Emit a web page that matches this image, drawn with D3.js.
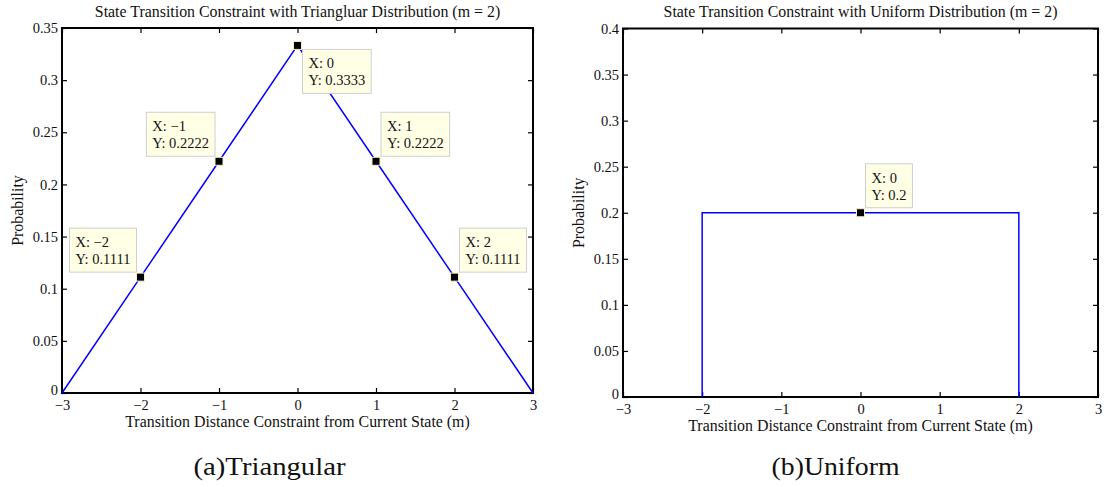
<!DOCTYPE html>
<html>
<head>
<meta charset="utf-8">
<script src="https://cdn.jsdelivr.net/npm/d3@7"></script>
<style>
  body { margin: 0; background: #fff; }
  svg text { font-family: "Liberation Serif", Tinos, "Times New Roman", Times, "DejaVu Serif", serif !important; fill: #111; }
</style>
</head>
<body>
<svg id="fig" width="1110" height="487"></svg>
<script>
// triangular panel
var triX = [-3, -2, -1, 0, 1, 2, 3];
var triY = [0, 0.1111, 0.2222, 0.3333, 0.2222, 0.1111, 0];
var triTipX = [-2, -1, 0, 1, 2];
var triTipY = [0.1111, 0.2222, 0.3333, 0.2222, 0.1111];
var triTipSide = ["nw", "nw", "se", "ne", "ne"];

// uniform panel
var uniX = [-2, -2, 2, 2];
var uniY = [0, 0.2, 0.2, 0];
var uniTipX = [0];
var uniTipY = [0.2];
var uniTipSide = ["ne"];

var xTicks = [-3, -2, -1, 0, 1, 2, 3];
var triYTicks = [0, 0.05, 0.1, 0.15, 0.2, 0.25, 0.3, 0.35];
var uniYTicks = [0, 0.05, 0.1, 0.15, 0.2, 0.25, 0.3, 0.35, 0.4];

var xLabel = "Transition Distance Constraint from Current State (m)";
var yLabel = "Probability";

var svg = d3.select("#fig");
var fmt = function(d) { return String(+d.toFixed(4)).replace("-", "\u2212"); };

function drawPanel(p) {
    var x = d3.scaleLinear().domain([-3, 3]).range([p.left, p.right]);
    var y = d3.scaleLinear().domain([0, p.yMax]).range([p.bottom, p.top]);
    var g = svg.append("g");

    // inward ticks on all four sides
    g.append("g")
        .attr("transform", "translate(0," + p.bottom + ")")
        .call(d3.axisBottom(x).tickValues(xTicks).tickSize(-5).tickPadding(7).tickFormat(fmt));
    g.append("g")
        .attr("transform", "translate(0," + p.top + ")")
        .call(d3.axisTop(x).tickValues(xTicks).tickSize(-5).tickFormat(""));
    var yl = g.append("g")
        .attr("transform", "translate(" + p.left + ",0)")
        .call(d3.axisLeft(y).tickValues(p.yTicks).tickSize(-5).tickPadding(4).tickFormat(fmt));
    g.append("g")
        .attr("transform", "translate(" + p.right + ",0)")
        .call(d3.axisRight(y).tickValues(p.yTicks).tickSize(-5).tickFormat(""));

    g.selectAll(".domain").remove();
    g.selectAll(".tick line").attr("stroke", "#000").attr("stroke-width", 1.2);
    g.selectAll(".tick text").attr("font-size", 14.5).attr("fill", "#111");
    // lift the zero label a little so it clears the -3 below it
    yl.selectAll(".tick text").filter(function(d) { return d === 0; }).attr("dy", "0.1em");

    // box
    g.append("rect")
        .attr("x", p.left).attr("y", p.top)
        .attr("width", p.right - p.left).attr("height", p.bottom - p.top)
        .attr("fill", "none").attr("stroke", "#000").attr("stroke-width", 2);

    var line = d3.line()
        .x(function(d, i) { return x(p.xs[i]); })
        .y(function(d, i) { return y(p.ys[i]); });
    g.append("path")
        .datum(p.xs)
        .attr("d", line)
        .attr("fill", "none").attr("stroke", "#0000ff").attr("stroke-width", 1.5);

    // data tips
    p.tipX.forEach(function(tx, i) {
        var mx = x(tx), my = y(p.tipY[i]);
        var tip = g.append("g");
        var t = tip.append("text").attr("font-size", 14.5);
        t.append("tspan").attr("x", 0).attr("y", 0).text("X: " + fmt(tx));
        t.append("tspan").attr("x", 0).attr("y", 17).text("Y: " + p.tipY[i].toFixed(p.tipY[i] === 0.2 ? 1 : 4));
        var bb = t.node().getBBox();
        var w = bb.width + 12, h = 44;
        var side = p.tipSide[i];
        var bx = side.indexOf("w") >= 0 ? mx - 4 - w : mx + 5;
        var by = side.indexOf("n") >= 0 ? my - 5 - h : my + 4;
        tip.insert("rect", "text")
            .attr("x", bx).attr("y", by).attr("width", w).attr("height", h)
            .attr("fill", "#ffffe6").attr("stroke", "#cfcfcf").attr("stroke-width", 1);
        t.attr("transform", "translate(" + (bx + 6) + "," + (by + 19) + ")");
        tip.append("rect")
            .attr("x", mx - 4).attr("y", my - 4).attr("width", 8).attr("height", 8)
            .attr("fill", "#000").attr("stroke", "#f5f0c0").attr("stroke-width", 1);
    });

    var cx = (p.left + p.right) / 2;
    g.append("text")
        .attr("x", cx).attr("y", 17).attr("text-anchor", "middle").attr("font-size", 15.9)
        .text(p.title);
    g.append("text")
        .attr("x", cx).attr("y", p.bottom + 34).attr("text-anchor", "middle").attr("font-size", 15.9)
        .text(xLabel);
    g.append("text")
        .attr("transform", "translate(" + (p.left - 39) + "," + ((p.top + p.bottom) / 2) + ") rotate(-90)")
        .attr("text-anchor", "middle").attr("font-size", 15.9)
        .text(yLabel);
    g.append("text")
        .attr("x", p.capX).attr("y", 475).attr("text-anchor", "middle").attr("font-size", 25)
        .attr("textLength", p.capW).attr("lengthAdjust", "spacingAndGlyphs")
        .text(p.caption);
}

drawPanel({
    left: 62, right: 533, top: 28, bottom: 393, yMax: 0.35, yTicks: triYTicks,
    xs: triX, ys: triY, tipX: triTipX, tipY: triTipY, tipSide: triTipSide,
    title: "State Transition Constraint with Triangluar Distribution (m = 2)",
    caption: "(a)Triangular", capX: 269.5, capW: 152
});

drawPanel({
    left: 623, right: 1098, top: 28.5, bottom: 397, yMax: 0.4, yTicks: uniYTicks,
    xs: uniX, ys: uniY, tipX: uniTipX, tipY: uniTipY, tipSide: uniTipSide,
    title: "State Transition Constraint with Uniform Distribution (m = 2)",
    caption: "(b)Uniform", capX: 835.5, capW: 128
});
</script>
</body>
</html>
